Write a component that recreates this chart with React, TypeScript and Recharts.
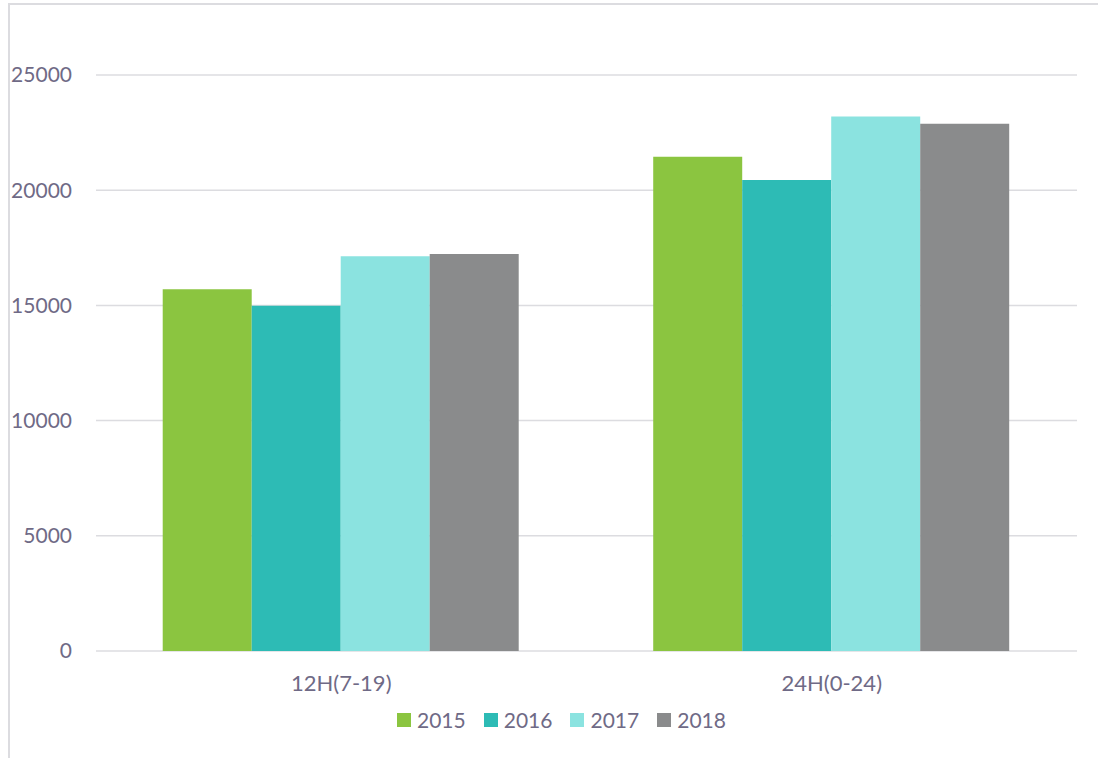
import React from 'react';
import { BarChart, Bar, XAxis, YAxis, CartesianGrid, Legend } from 'recharts';

const categories = ['12H(7-19)', '24H(0-24)'];
const series2015 = [15700, 21450];
const series2016 = [14990, 20440];
const series2017 = [17130, 23200];
const series2018 = [17230, 22880];
const yTicks = [0, 5000, 10000, 15000, 20000, 25000];
const seriesNames = ['2015', '2016', '2017', '2018'];
const seriesColors = ['#8BC540', '#2DBBB5', '#8BE3E0', '#8A8B8C'];

const data = categories.map((c, i) => ({
  name: c,
  '2015': series2015[i],
  '2016': series2016[i],
  '2017': series2017[i],
  '2018': series2018[i],
}));

const textColor = '#6F6A86';
const font = 'Lato, "Open Sans", sans-serif';

const LegendContent = () => (
  <div style={{ display: 'flex', alignItems: 'center', fontFamily: font, fontSize: 21, color: textColor }}>
    {seriesNames.map((n, i) => (
      <div key={n} style={{ display: 'flex', alignItems: 'center', marginRight: i < 3 ? 18 : 0 }}>
        <div style={{ width: 14, height: 14, background: seriesColors[i], marginRight: 6 }} />
        <span>{n}</span>
      </div>
    ))}
  </div>
);

export default function App() {
  return (
    <div style={{ position: 'absolute', left: 0, top: 0, width: 1098, height: 758, overflow: 'hidden', background: '#fff' }}>
      <div style={{ position: 'absolute', left: 8, top: 3, width: 1200, height: 900, borderTop: '2px solid #DCDCE0', borderLeft: '2px solid #DCDCE0' }} />
      <div style={{ position: 'absolute', left: 0, top: 0 }}>
        <BarChart
          width={1098}
          height={758}
          data={data}
          margin={{ top: 75, right: 21, bottom: 19, left: 0 }}
          barCategoryGap="13.6%"
          barGap={0}
        >
          <CartesianGrid vertical={false} stroke="#DCDCE0" strokeWidth={1.5} />
          <XAxis
            dataKey="name"
            axisLine={false}
            tickLine={false}
            height={60}
            tickMargin={18}
            tick={{ fill: textColor, fontSize: 22, fontFamily: font }}
          />
          <YAxis
            width={96}
            domain={[0, 25000]}
            ticks={yTicks}
            axisLine={false}
            tickLine={false}
            tickSize={0}
            tickMargin={24}
            tick={{ fill: textColor, fontSize: 21, fontFamily: font }}
          />
          <Legend
            content={<LegendContent />}
            wrapperStyle={{ position: 'absolute', left: 397, top: 707, width: 360, height: 28 }}
          />
          {seriesNames.map((n, i) => (
            <Bar key={n} dataKey={n} fill={seriesColors[i]} isAnimationActive={false} />
          ))}
        </BarChart>
      </div>
    </div>
  );
}
